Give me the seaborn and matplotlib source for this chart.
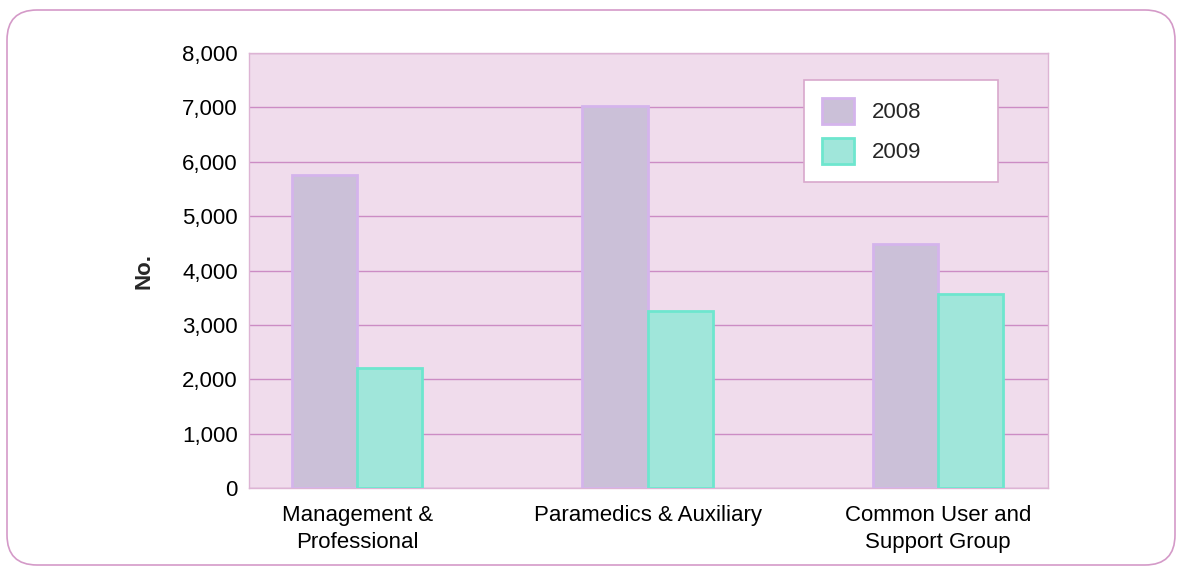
import numpy as np
import pandas as pd
import seaborn as sns
import matplotlib as mpl
import matplotlib.pyplot as plt
from matplotlib.patches import FancyBboxPatch
from matplotlib.ticker import FuncFormatter

categories = ["Management &\nProfessional", "Paramedics & Auxiliary", "Common User and\nSupport Group"]
years = ["2008", "2009"]
values_2008 = [5750, 7020, 4490]
values_2009 = [2210, 3250, 3570]

df = pd.DataFrame({
    "group": categories * 2,
    "year": [years[0]] * 3 + [years[1]] * 3,
    "count": values_2008 + values_2009,
})

sns.set_theme(style="white")
plt.rcParams["font.family"] = ["Liberation Sans", "DejaVu Sans"]

fig = plt.figure(figsize=(11.82, 5.70), dpi=100)
ax = fig.add_axes([0.2107, 0.1439, 0.676, 0.763])
ax.set_facecolor("#F0DCEC")

sns.barplot(
    data=df, x="group", y="count", hue="year", order=categories, hue_order=years,
    palette=["#CBC0D8", "#A0E6DA"], saturation=1, width=0.45, gap=0, ax=ax, zorder=3,
)
edges = {"2008": "#D4B4EC", "2009": "#6EE6CE"}
for cont, yr in zip(ax.containers, years):
    for bar in cont:
        bar.set_edgecolor(edges[yr])
        bar.set_linewidth(2)

ax.set_ylim(0, 8000)
ax.set_yticks(range(0, 8001, 1000))
ax.yaxis.set_major_formatter(FuncFormatter(lambda v, p: f"{int(v):,}"))
ax.set_xlim(-0.372, 2.379)
ax.yaxis.grid(True, color="#CC8CC4", linewidth=1, zorder=0)
ax.set_axisbelow(True)
for s in ax.spines.values():
    s.set_color("#DDB4D4")
    s.set_linewidth(1)
ax.tick_params(axis="both", length=0, labelsize=16, colors="black", pad=8)
ax.tick_params(axis="x", pad=12)
for t in ax.get_xticklabels():
    t.set_linespacing(1.4)
ax.set_xlabel("")
ax.set_ylabel("No.", fontsize=16, fontweight="bold", labelpad=20)

leg = ax.legend(
    loc="upper left", bbox_to_anchor=(0.695, 0.5, 0.242, 0.438), mode="expand",
    borderaxespad=0, fontsize=16, frameon=True, fancybox=False,
    handlelength=1.45, handleheight=1.45, borderpad=0.8, labelspacing=0.6,
    handletextpad=0.8,
)
leg.get_frame().set_edgecolor("#D8A8CC")
leg.get_frame().set_linewidth(1.2)
leg.get_frame().set_facecolor("white")
leg.get_frame().set_alpha(1)
for h, yr in zip(leg.legend_handles, years):
    h.set_edgecolor(edges[yr])
    h.set_linewidth(2)

frame = FancyBboxPatch(
    (7, 5), 1168, 555, boxstyle="round,pad=0,rounding_size=30",
    transform=None, facecolor="none", edgecolor="#D49AC8", linewidth=1.2,
)
fig.add_artist(frame)

fig.savefig("out.png", dpi=100)
